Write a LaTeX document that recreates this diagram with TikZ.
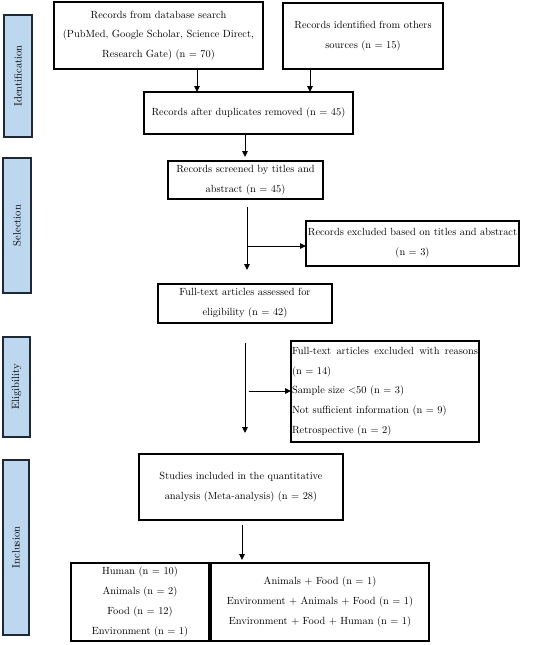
\documentclass[tikz,border=0pt]{standalone}
\usepackage{fontspec}
\usetikzlibrary{arrows.meta}
\definecolor{sidefill}{RGB}{189,215,238}
\definecolor{sidedraw}{RGB}{30,40,55}
\begin{document}
\begin{tikzpicture}[x=1pt,y=-1pt,
  box/.style={draw=black, line width=1.1pt, anchor=north west, inner sep=1pt, outer sep=0pt,
    align=center, font=\fontsize{10.4}{19.8}\selectfont},
  side/.style={draw=sidedraw, fill=sidefill, line width=1.1pt, rotate=90, inner sep=0pt,
    outer sep=0pt, font=\fontsize{10.6}{12}\selectfont},
  arr/.style={line width=0.9pt, -{Triangle[length=6pt,width=5.5pt]}},
  ln/.style={line width=0.9pt}]
\useasboundingbox (0,0) rectangle (550,645);
% side labels
\node[side, minimum width=122pt, minimum height=28pt] (sid) at (18,76) {Identification};
\node[side, minimum width=135pt, minimum height=28pt] (sse) at (17,225.5) {Selection};
\node[side, minimum width=100pt, minimum height=27pt] (sel) at (16.5,387) {Eligibility};
\node[side, minimum width=175pt, minimum height=26pt] (sin) at (16,547.5) {Inclusion};
% boxes
\node[box, minimum width=209pt, minimum height=67pt] (b1) at (54,2)
  {Records from database search\\(PubMed, Google Scholar, Science Direct,\\Research Gate) (n = 70)};
\node[box, minimum width=160pt, minimum height=66pt] (b2) at (283,3)
  {Records identified from others\\sources (n = 15)};
\node[box, minimum width=209pt, minimum height=42pt] (b3) at (144,92)
  {Records after duplicates removed (n = 45)};
\node[box, minimum width=155pt, minimum height=38pt] (b4) at (168,161)
  {Records screened by titles and\\abstract (n = 45)};
\node[box, minimum width=213pt, minimum height=45pt] (b5) at (306,221)
  {Records excluded based on titles and abstract\\(n = 3)};
\node[box, minimum width=174pt, minimum height=39pt] (b6) at (158,284)
  {Full-text articles assessed for\\eligibility (n = 42)};
\node[box, minimum width=188pt, minimum height=101pt, align=left, text width=186pt, inner sep=1pt] (b7) at (291,341)
  {\hbox to 186pt{Full-text\hfill articles\hfill excluded\hfill with\hfill reasons}\\(n = 14)\\Sample size <50 (n = 3)\\Not sufficient information (n = 9)\\Retrospective (n = 2)};
\node[box, minimum width=204pt, minimum height=66pt] (b8) at (139,454)
  {Studies included in the quantitative\\analysis (Meta-analysis) (n = 28)};
\node[box, minimum width=138pt, minimum height=78pt] (b9) at (71,563)
  {Human (n = 10)\\Animals (n = 2)\\Food (n = 12)\\Environment (n = 1)};
\node[box, minimum width=218pt, minimum height=78pt] (b10) at (211,563)
  {Animals + Food (n = 1)\\Environment + Animals + Food (n = 1)\\Environment + Food + Human (n = 1)};
% connectors
\draw[arr] ([xshift=38.5pt]b1.south) -- ([xshift=38.5pt]b1.south |- b3.north);
\draw[arr] ([xshift=-53pt]b2.south) -- ([xshift=-53pt]b2.south |- b3.north);
\coordinate (c34a) at ([xshift=-3.5pt]b3.south);
\coordinate (c34b) at ([yshift=4pt]c34a |- b4.north);
\draw[arr] (c34a) -- (c34b);
\coordinate (c46a) at ([xshift=1.5pt,yshift=-8pt]b4.south);
\coordinate (c46b) at ([yshift=14pt]c46a |- b6.north);
\draw[arr] (c46a) -- (c46b);
\coordinate (c45) at (247.5,246);
\draw[arr] (c45) -- (c45 -| b5.west);
\coordinate (c68a) at ([xshift=-0pt,yshift=-20pt]b6.south);
\coordinate (c68b) at ([yshift=21pt]c68a |- b8.north);
\coordinate (c67) at (248.5,391);
\draw[arr] (c68a) -- (c68b);
\draw[arr] (c67) -- (c67 -| b7.west);
\coordinate (c89a) at ([xshift=1pt,yshift=-5pt]b8.south);
\coordinate (c89b) at ([yshift=3pt]c89a |- b10.north);
\draw[arr] (c89a) -- (c89b);
\end{tikzpicture}
\end{document}
